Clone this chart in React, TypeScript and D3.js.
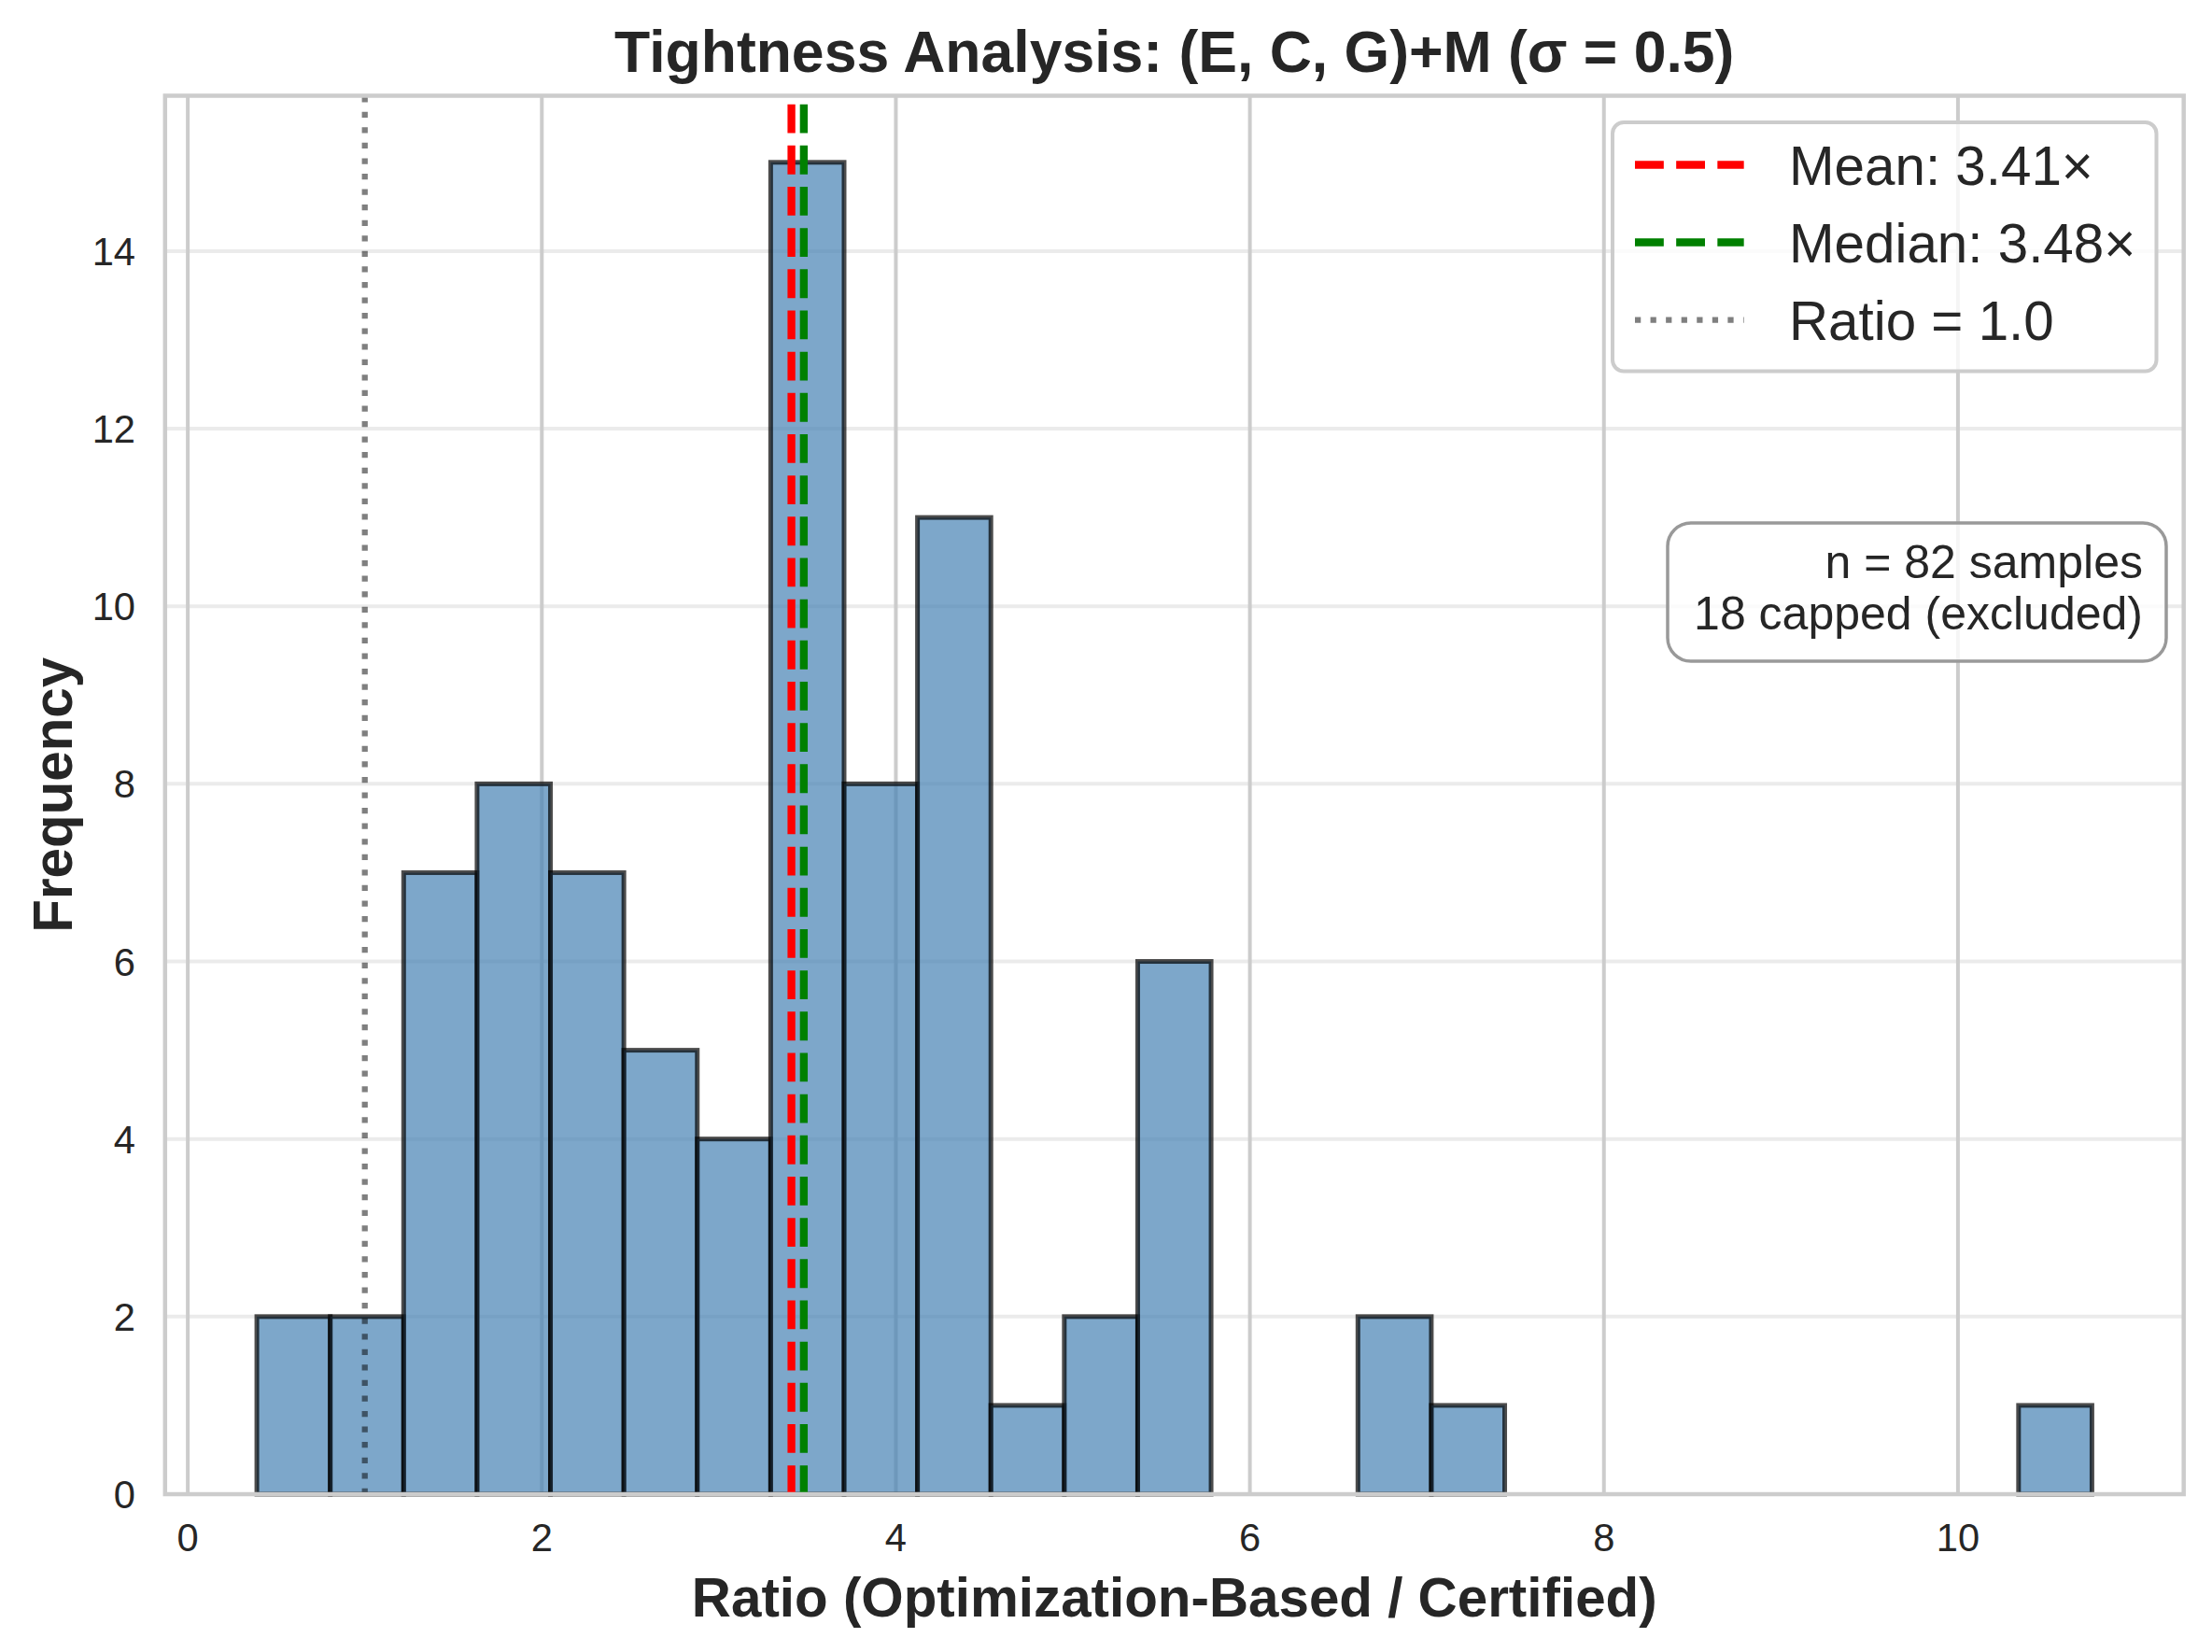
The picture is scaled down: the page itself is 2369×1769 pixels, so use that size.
import React from 'react';
import * as d3 from 'd3';

// Histogram of ratio values (25 equal-width bins over the observed range)
const binCounts = [2, 2, 7, 8, 7, 5, 4, 15, 8, 11, 1, 2, 6, 0, 0, 2, 1, 0, 0, 0, 0, 0, 0, 0, 1];
const ratioMin = 0.39;
const ratioMax = 10.757;
const meanRatio = 3.41;
const medianRatio = 3.48;
const referenceRatio = 1.0;
const cappedCount = 18;

const xTicks = [0, 2, 4, 6, 8, 10];
const yTicks = [0, 2, 4, 6, 8, 10, 12, 14];

const titleText = 'Tightness Analysis: (E, C, G)+M (σ = 0.5)';
const xLabelText = 'Ratio (Optimization-Based / Certified)';
const yLabelText = 'Frequency';

const W = 2369;
const H = 1769;
const M = { left: 176.8, right: 2338.7, top: 102.5, bottom: 1600 };
const FONT = "'Liberation Sans', Arial, Helvetica, sans-serif";
const TEXT = '#262626';
const PT = 300 / 72;

export default function App() {
  const nBins = binCounts.length;
  const binWidth = (ratioMax - ratioMin) / nBins;
  const span = ratioMax - ratioMin;
  const x = d3
    .scaleLinear()
    .domain([ratioMin - 0.05 * span, ratioMax + 0.05 * span])
    .range([M.left, M.right]);
  const yMax = (d3.max(binCounts) as number) * 1.05;
  const y = d3.scaleLinear().domain([0, yMax]).range([M.bottom, M.top]);

  const bins = binCounts.map((c, i) => ({
    x0: ratioMin + i * binWidth,
    x1: ratioMin + (i + 1) * binWidth,
    count: c,
  }));

  const total = d3.sum(binCounts);
  const noteLines = [`n = ${total} samples`, `${cappedCount} capped (excluded)`];
  const legendItems = [
    { label: `Mean: ${meanRatio.toFixed(2)}×`, color: '#ff0000', dash: `${3.7 * 2 * PT} ${1.6 * 2 * PT}`, width: 2 * PT, opacity: 1 },
    { label: `Median: ${medianRatio.toFixed(2)}×`, color: '#008000', dash: `${3.7 * 2 * PT} ${1.6 * 2 * PT}`, width: 2 * PT, opacity: 1 },
    { label: `Ratio = ${referenceRatio.toFixed(1)}`, color: '#000000', dash: `${1 * 1.5 * PT} ${1.65 * 1.5 * PT}`, width: 1.5 * PT, opacity: 0.5 },
  ];
  const refLines = [
    { v: meanRatio, ...legendItems[0] },
    { v: medianRatio, ...legendItems[1] },
    { v: referenceRatio, ...legendItems[2] },
  ];

  const legendFont = 14 * PT;
  const legend = { x0: 1727, x1: 2309.5, y0: 131, y1: 397.5 };
  const legendRows = [176.5, 259.5, 342.5];

  const note = { x0: 1786, x1: 2320, y0: 560, y1: 708, textX: 2295 };
  const noteBaselines = [619, 674];

  return (
    <svg
      width={W}
      height={H}
      viewBox={`0 0 ${W} ${H}`}
      style={{ position: 'absolute', left: 0, top: 0, background: '#ffffff' }}
      fontFamily={FONT}
    >
      <rect x={0} y={0} width={W} height={H} fill="#ffffff" />

      {/* grid */}
      {yTicks.map((t) => (
        <line key={`gy${t}`} x1={M.left} x2={M.right} y1={y(t)} y2={y(t)} stroke="#cccccc" strokeOpacity={0.4} strokeWidth={4} />
      ))}
      {xTicks.map((t) => (
        <line key={`gx${t}`} x1={x(t)} x2={x(t)} y1={M.top} y2={M.bottom} stroke="#cccccc" strokeWidth={4} />
      ))}

      {/* histogram bars */}
      {bins.map((b, i) => (
        <rect
          key={`bar${i}`}
          x={x(b.x0)}
          y={y(b.count)}
          width={x(b.x1) - x(b.x0)}
          height={y(0) - y(b.count)}
          fill="#4682b4"
          fillOpacity={0.7}
          stroke="#000000"
          strokeOpacity={0.7}
          strokeWidth={5}
        />
      ))}

      {/* reference lines */}
      {refLines.map((l, i) => (
        <line
          key={`ref${i}`}
          x1={x(l.v)}
          x2={x(l.v)}
          y1={M.bottom}
          y2={M.top}
          stroke={l.color}
          strokeOpacity={l.opacity}
          strokeWidth={l.width}
          strokeDasharray={l.dash}
        />
      ))}

      {/* spines */}
      <rect
        x={M.left}
        y={M.top}
        width={M.right - M.left}
        height={M.bottom - M.top}
        fill="none"
        stroke="#cccccc"
        strokeWidth={4.5}
      />

      {/* tick labels */}
      {xTicks.map((t) => (
        <text key={`xt${t}`} x={x(t)} y={1661} textAnchor="middle" fontSize={10 * PT} fill={TEXT}>
          {t}
        </text>
      ))}
      {yTicks.map((t) => (
        <text key={`yt${t}`} x={145} y={y(t) + 15} textAnchor="end" fontSize={10 * PT} fill={TEXT}>
          {t}
        </text>
      ))}

      {/* axis labels and title */}
      <text x={(M.left + M.right) / 2} y={1731} textAnchor="middle" fontSize={14 * PT} fontWeight="bold" fill={TEXT}>
        {xLabelText}
      </text>
      <text
        transform={`translate(77, ${(M.top + M.bottom) / 2}) rotate(-90)`}
        textAnchor="middle"
        fontSize={14 * PT}
        fontWeight="bold"
        fill={TEXT}
      >
        {yLabelText}
      </text>
      <text x={(M.left + M.right) / 2} y={77} textAnchor="middle" fontSize={15 * PT} fontWeight="bold" fill={TEXT}>
        {titleText}
      </text>

      {/* legend */}
      <rect
        x={legend.x0}
        y={legend.y0}
        width={legend.x1 - legend.x0}
        height={legend.y1 - legend.y0}
        rx={12}
        ry={12}
        fill="#ffffff"
        fillOpacity={0.8}
        stroke="#cccccc"
        strokeWidth={4}
      />
      {legendItems.map((it, i) => (
        <g key={`leg${i}`}>
          <line
            x1={1751}
            x2={1751 + 2 * legendFont}
            y1={legendRows[i]}
            y2={legendRows[i]}
            stroke={it.color}
            strokeOpacity={it.opacity}
            strokeWidth={it.width}
            strokeDasharray={it.dash}
          />
          <text x={1916} y={legendRows[i] + 21.5} fontSize={legendFont} fill={TEXT}>
            {it.label}
          </text>
        </g>
      ))}

      {/* sample count note */}
      <rect
        x={note.x0}
        y={note.y0}
        width={note.x1 - note.x0}
        height={note.y1 - note.y0}
        rx={25}
        ry={25}
        fill="#ffffff"
        fillOpacity={0.8}
        stroke="#999999"
        strokeWidth={3.5}
      />
      {noteLines.map((s, i) => (
        <text key={`note${i}`} x={note.textX} y={noteBaselines[i]} textAnchor="end" fontSize={12 * PT} fill={TEXT}>
          {s}
        </text>
      ))}
    </svg>
  );
}
